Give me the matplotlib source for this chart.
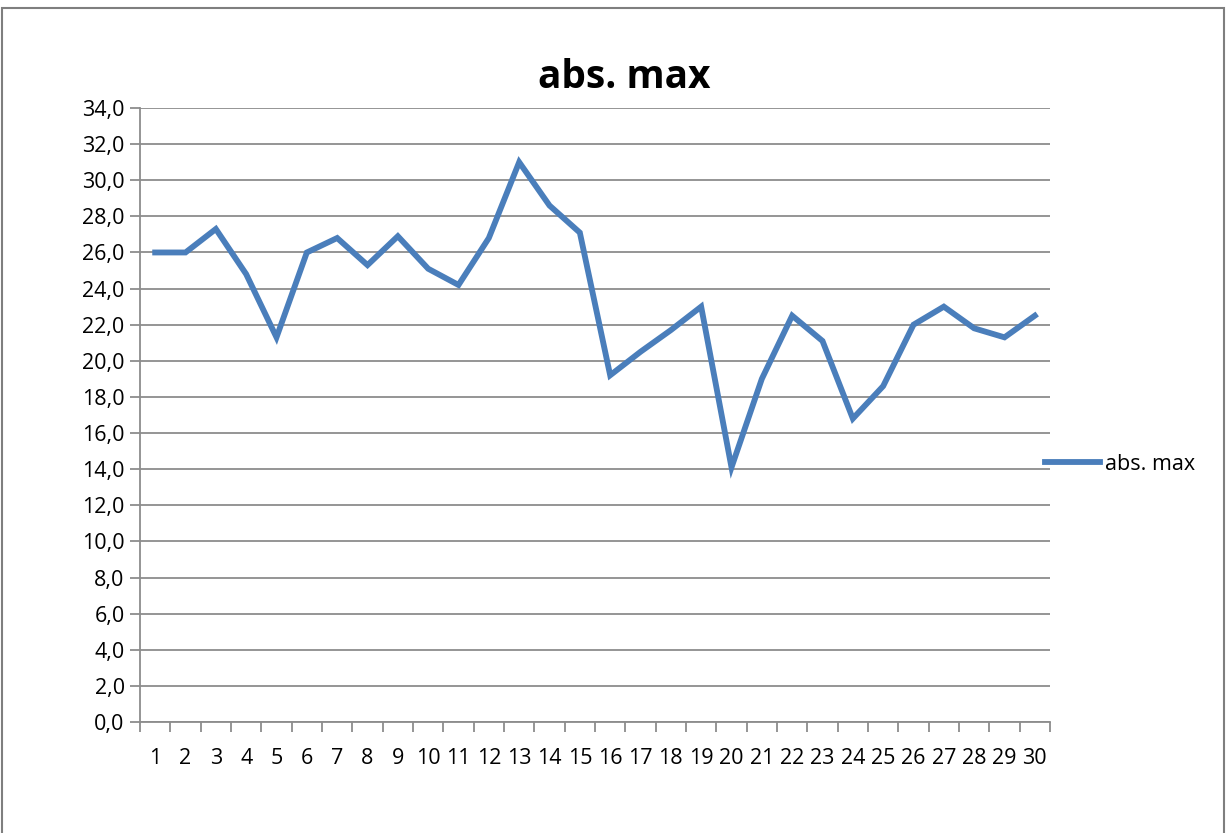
import matplotlib
matplotlib.use("Agg")
import matplotlib.pyplot as plt
from matplotlib.patches import Rectangle
from matplotlib.ticker import FixedLocator, FuncFormatter

# ---------------------------------------------------------------- data
days = list(range(1, 31))
abs_max = [26.0, 26.0, 27.3, 24.8, 21.3, 26.0, 26.8, 25.3, 26.9, 25.1,
           24.2, 26.8, 31.0, 28.6, 27.1, 19.2, 20.5, 21.7, 23.0, 14.1,
           19.0, 22.5, 21.1, 16.8, 18.6, 22.0, 23.0, 21.8, 21.3, 22.5]
series_name = "abs. max"
y_ticks = [v * 2.0 for v in range(18)]

LINE = "#4A7EBB"
GRID = "#8C8C8C"

plt.rcParams["font.family"] = ["Open Sans", "DejaVu Sans"]

fig = plt.figure(figsize=(12.27, 8.33), dpi=100)
W, H = 1227, 833

# outer chart frame
fig.patches.append(Rectangle((2 / W, -0.05), 1222 / W, 1 - 8 / H + 0.05,
                             transform=fig.transFigure, fill=False,
                             edgecolor="#7F7F7F", linewidth=1.5))

ax = fig.add_axes([140 / W, 1 - 722 / H, 910 / W, 614 / H])

pos = list(range(len(days)))
line, = ax.plot(pos, abs_max, color=LINE, linewidth=4.2,
                solid_joinstyle="miter", label=series_name, zorder=3)

ax.set_xlim(-0.5, len(days) - 0.5)
ax.set_ylim(0, 34)

# y axis
ax.set_yticks(y_ticks)
ax.yaxis.set_major_formatter(FuncFormatter(lambda v, _: f"{v:.1f}".replace(".", ",")))
ax.grid(axis="y", color=GRID, linewidth=1.3)
ax.set_axisbelow(True)

# x axis: labels at category centres, tick marks at boundaries
ax.set_xticks(pos)
ax.set_xticklabels([str(d) for d in days])
ax.xaxis.set_minor_locator(FixedLocator([p - 0.5 for p in pos] + [len(days) - 0.5]))
ax.tick_params(axis="x", which="major", length=0, pad=19, labelsize=15.5)
ax.tick_params(axis="x", which="minor", length=7, width=1.3, color=GRID, direction="out")
ax.tick_params(axis="y", length=7, width=1.3, color=GRID, labelsize=15.5, pad=4)

for s in ("top", "right"):
    ax.spines[s].set_visible(False)
for s in ("left", "bottom"):
    ax.spines[s].set_color(GRID)
    ax.spines[s].set_linewidth(1.3)

fig.text(624 / W, 1 - 77 / H, "abs. max", ha="center", va="center",
         fontsize=28, fontweight="bold")

fig.legend(handles=[line], loc="center left",
           bbox_to_anchor=(1045 / W, 1 - 464 / H), frameon=False,
           fontsize=15.5, handlelength=2.55, handletextpad=0.25,
           borderaxespad=0, borderpad=0)

fig.savefig("out.png", dpi=100)
